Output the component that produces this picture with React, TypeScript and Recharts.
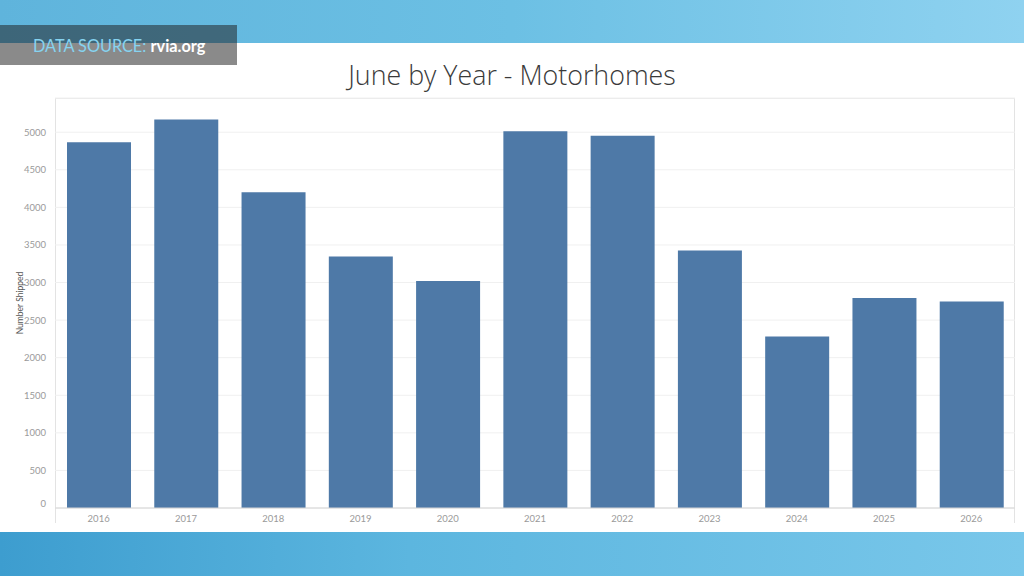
import React from "react";
import { BarChart, Bar, XAxis, YAxis, CartesianGrid } from "recharts";

const years = ["2016", "2017", "2018", "2019", "2020", "2021", "2022", "2023", "2024", "2025", "2026"];
const shipped = [4867, 5169, 4202, 3347, 3019, 5013, 4952, 3425, 2283, 2793, 2749];
const yTicks = [0, 500, 1000, 1500, 2000, 2500, 3000, 3500, 4000, 4500, 5000];

const data = years.map((y, i) => ({ year: y, value: shipped[i] }));

const YTick = (props: any) => {
  const { x, y, payload } = props;
  const dy = payload.value === 0 ? -5 : 0;
  return (
    <text
      x={x - 1}
      y={y + dy}
      textAnchor="end"
      dominantBaseline="central"
      fill="#9a9a9a"
      fontSize={9.5}
      fontFamily="Lato, 'Open Sans', sans-serif"
    >
      {payload.value}
    </text>
  );
};

export default function App() {
  return (
    <div
      style={{
        position: "relative",
        width: 1024,
        height: 576,
        overflow: "hidden",
        background: "#ffffff",
        fontFamily: "Lato, 'Open Sans', sans-serif",
      }}
    >
      <style>{`body{margin:0}`}</style>
      {/* top blue band */}
      <div
        style={{
          position: "absolute",
          left: 0,
          top: 0,
          width: 1024,
          height: 43,
          background: "linear-gradient(90deg, #5fb4dc 0%, #6cc0e4 50%, #8fd2f0 100%)",
        }}
      />
      {/* bottom blue band */}
      <div
        style={{
          position: "absolute",
          left: 0,
          top: 532,
          width: 1024,
          height: 44,
          background: "linear-gradient(90deg, #3d9dcf 0%, #5cb6df 40%, #79c7ea 100%)",
        }}
      />
      {/* data source banner */}
      <div
        style={{
          position: "absolute",
          left: 0,
          top: 25,
          width: 237,
          height: 40,
          background: "rgba(30,30,30,0.52)",
          display: "flex",
          alignItems: "center",
          paddingLeft: 33,
          boxSizing: "border-box",
          fontSize: 16.3,
          letterSpacing: 0,
        }}
      >
        <span style={{ color: "#86d3f0" }}>DATA SOURCE:&nbsp;</span>
        <span style={{ color: "#ffffff", fontWeight: 700 }}>rvia.org</span>
      </div>
      {/* title */}
      <div
        style={{
          position: "absolute",
          left: 0,
          top: 60,
          width: 1024,
          textAlign: "center",
          fontSize: 26.8,
          lineHeight: "30px",
          fontWeight: 300,
          color: "#3a3a3a",
          fontFamily: "'Open Sans', sans-serif",
        }}
      >
        June by Year - Motorhomes
      </div>
      {/* pane frame */}
      <div
        style={{
          position: "absolute",
          left: 55,
          top: 98,
          width: 960,
          height: 425,
          borderLeft: "1px solid #e3e3e3",
          borderTop: "1px solid #e8e8e8",
          borderRight: "1px solid #e3e3e3",
          boxSizing: "border-box",
        }}
      />
      <div style={{ position: "absolute", left: 0, top: 0 }}>
        <BarChart
          width={1024}
          height={576}
          data={data}
          margin={{ top: 98, right: 9, bottom: 0, left: 0 }}
        >
          <CartesianGrid vertical={false} stroke="#f0f0f0" />
          <XAxis
            dataKey="year"
            height={68}
            axisLine={{ stroke: "#d4d4d4" }}
            tickLine={false}
            tickMargin={1}
            tick={{ fill: "#9a9a9a", fontSize: 9.5, fontFamily: "Lato, 'Open Sans', sans-serif" }}
          />
          <YAxis
            width={55}
            domain={[0, 5455]}
            ticks={yTicks}
            axisLine={false}
            tickLine={false}
            tick={<YTick />}
            label={{
              value: "Number Shipped",
              angle: -90,
              position: "insideLeft",
              offset: 20,
              style: { textAnchor: "middle", fill: "#555555", fontSize: 8.5, fontFamily: "Lato, 'Open Sans', sans-serif" },
            }}
          />
          <Bar dataKey="value" fill="#4e79a7" barSize={64} isAnimationActive={false} />
        </BarChart>
      </div>
    </div>
  );
}
